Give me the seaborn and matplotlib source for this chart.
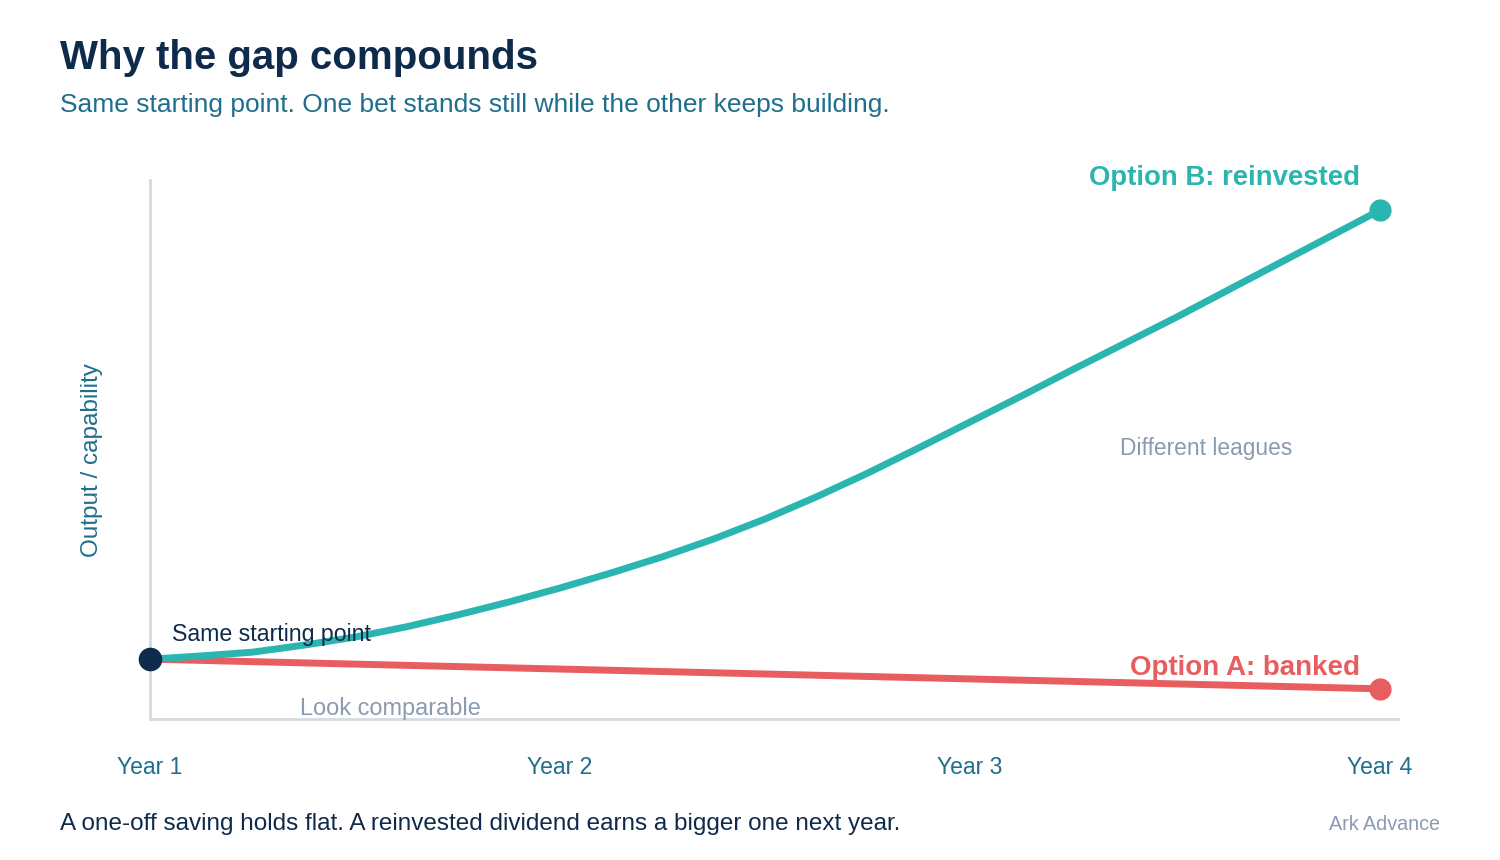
import numpy as np
import pandas as pd
import seaborn as sns
import matplotlib.pyplot as plt

# values (arbitrary units, 0 = bottom of the axis)
years_b = [1.0, 1.125, 1.25, 1.375, 1.5, 1.625, 1.75, 1.875, 2.0,
           2.125, 2.25, 2.375, 2.5, 2.625, 2.75, 2.875, 3.0,
           3.125, 3.25, 3.375, 3.5, 3.625, 3.75, 3.875, 4.0]
option_b = [11.1, 11.7, 12.4, 13.7, 15.2, 17.1, 19.3, 21.7, 24.3,
            27.1, 30.1, 33.4, 37.1, 41.2, 45.6, 50.3, 55.1,
            59.9, 64.8, 69.6, 74.4, 79.4, 84.4, 89.4, 94.4]
years_a = [1.0, 4.0]
option_a = [11.1, 5.6]
tick_years = [1, 2, 3, 4]
tick_labels = ["Year 1", "Year 2", "Year 3", "Year 4"]

TEAL = "#2bb5b0"
RED = "#e85d5f"
NAVY = "#0f2b4c"
BLUE = "#1f6e8c"
GREY = "#8a9bb0"
SPINE = "#d5dbe3"

sns.set_style("white")
plt.rcParams['font.family'] = ['Liberation Sans', 'DejaVu Sans']

df = pd.concat([
    pd.DataFrame({"year": years_b, "value": option_b, "option": "B"}),
    pd.DataFrame({"year": years_a, "value": option_a, "option": "A"}),
])

fig = plt.figure(figsize=(15, 8.6), dpi=100)
ax = fig.add_axes([0.1, 1 - 719/860, 0.832, (719 - 180)/860])

sns.lineplot(data=df[df.option == "A"], x="year", y="value", color=RED, lw=5, ax=ax,
             solid_capstyle="round", clip_on=False)
sns.lineplot(data=df[df.option == "B"], x="year", y="value", color=TEAL, lw=5, ax=ax,
             solid_capstyle="round", solid_joinstyle="round", clip_on=False)

ax.plot(years_b[-1], option_b[-1], "o", ms=15, color=TEAL, clip_on=False, zorder=5)
ax.plot(years_a[-1], option_a[-1], "o", ms=15, color=RED, clip_on=False, zorder=5)
ax.plot(years_b[0], option_b[0], "o", ms=16, color=NAVY, clip_on=False, zorder=6)

ax.set_xlim(1, 4.044)
ax.set_ylim(0, 100)
ax.set_xticks(tick_years)
ax.set_xticklabels(tick_labels)
ax.set_yticks([])
ax.set_xlabel("")
ax.set_ylabel("")
ax.tick_params(axis="x", length=0, pad=27, labelsize=16.5, labelcolor=BLUE)
for s in ["top", "right"]:
    ax.spines[s].set_visible(False)
for s in ["left", "bottom"]:
    ax.spines[s].set_color(SPINE)
    ax.spines[s].set_linewidth(2)

def ftext(x, y, s, **kw):
    fig.text(x/1500, 1 - y/860, s, va="center", **kw)

ftext(60, 58, "Why the gap compounds", fontsize=29, fontweight="bold", color=NAVY)
ftext(60, 105, "Same starting point. One bet stands still while the other keeps building.",
      fontsize=19, color=BLUE)
ftext(92, 460, "Output / capability", fontsize=17.5, color=BLUE, rotation=90, ha="center")
ftext(172, 634, "Same starting point", fontsize=16.7, color=NAVY)
ftext(300, 709, "Look comparable", fontsize=16.9, color=GREY)
ftext(1120, 449, "Different leagues", fontsize=16.4, color=GREY)
ftext(1360, 178, "Option B: reinvested", fontsize=19.8, fontweight="bold", color=TEAL, ha="right")
ftext(1360, 668, "Option A: banked", fontsize=20, fontweight="bold", color=RED, ha="right")
ftext(60, 824, "A one-off saving holds flat. A reinvested dividend earns a bigger one next year.",
      fontsize=17.5, color=NAVY)
ftext(1440, 825, "Ark Advance", fontsize=14.2, color=GREY, ha="right")

fig.savefig("out.png", dpi=100)
